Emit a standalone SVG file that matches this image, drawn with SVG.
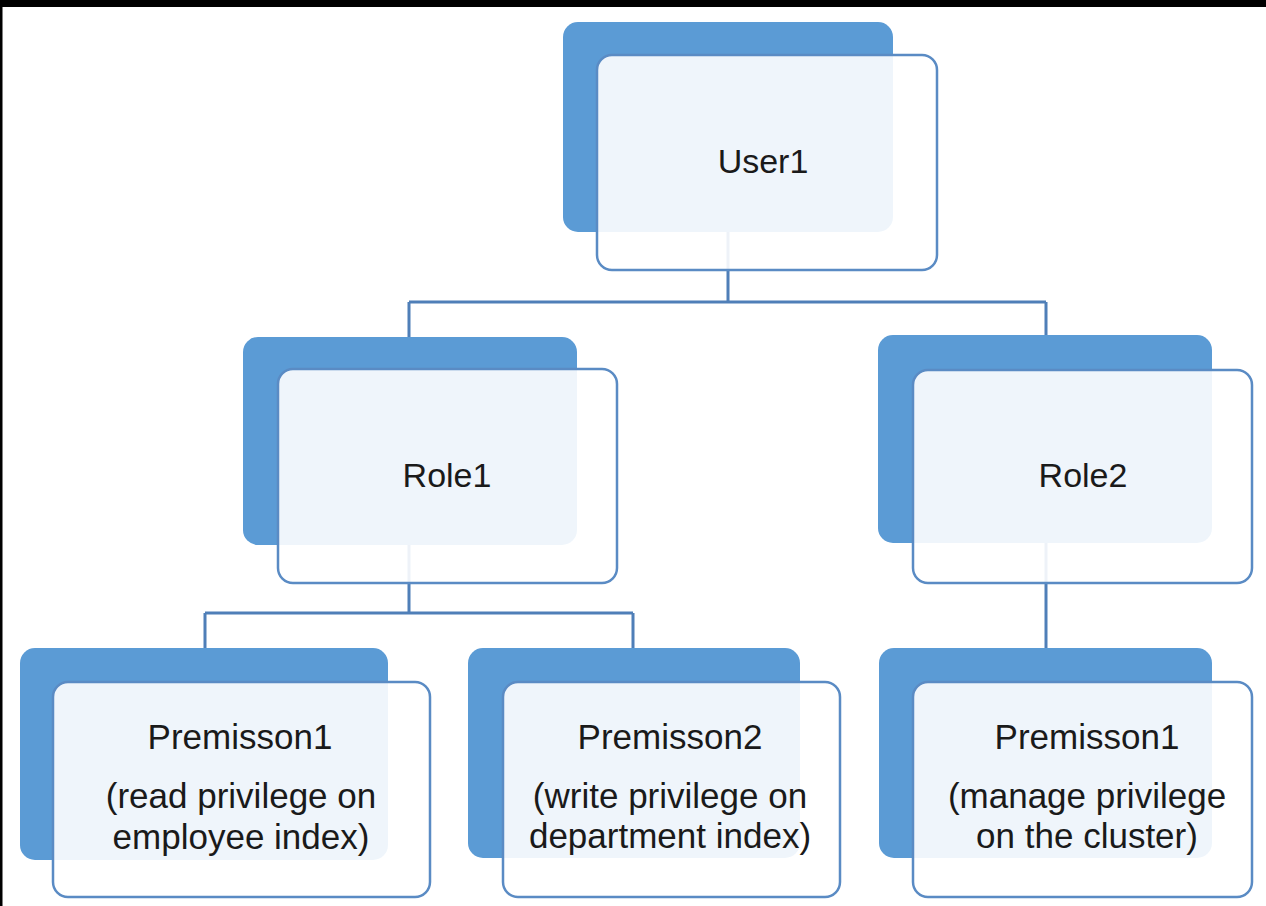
<svg xmlns="http://www.w3.org/2000/svg" width="1266" height="906" viewBox="0 0 1266 906">
<style>
.back{fill:#5B9BD5;}
.front{fill:#FFFFFF;fill-opacity:0.9;stroke:#5A8BC4;stroke-width:2.5;}
.conn{fill:none;stroke:#4F7FB8;stroke-width:3;}
.t{font-family:"Liberation Sans",Arial,sans-serif;font-size:34px;fill:#1A1A1A;text-anchor:middle;}
.p{font-size:35px;}
</style>
<rect x="0" y="0" width="1266" height="906" fill="#FFFFFF"/>
<rect x="0" y="0" width="1266" height="7" fill="#000000"/>
<rect x="0" y="0" width="2.5" height="906" fill="#000000"/>
<g id="connectors">
<path class="conn" d="M728 232 V302 M409 302 H1046 M409 302 V337 M1046 302 V335"/>
<path class="conn" d="M409 545 V613 M205 613 H633 M205 613 V648 M633 613 V648"/>
<path class="conn" d="M1046 543 V648"/>
</g>
<g id="user1">
<rect class="back" x="563" y="22" width="330" height="210" rx="15"/>
<rect class="front" x="597" y="55" width="340" height="215" rx="15"/>
<text class="t" x="763" y="173">User1</text>
</g>
<g id="role1">
<rect class="back" x="243" y="337" width="334" height="208" rx="15"/>
<rect class="front" x="278" y="369" width="339" height="214" rx="15"/>
<text class="t" x="447" y="487">Role1</text>
</g>
<g id="role2">
<rect class="back" x="878" y="335" width="334" height="208" rx="15"/>
<rect class="front" x="913" y="370" width="339" height="213" rx="15"/>
<text class="t" x="1083" y="487">Role2</text>
</g>
<g id="perm1">
<rect class="back" x="20" y="648" width="368" height="212" rx="15"/>
<rect class="front" x="53" y="682" width="377" height="215" rx="15"/>
<text class="t p" x="240" y="749">Premisson1</text>
<text class="t p" x="241" y="808">(read privilege on</text>
<text class="t p" x="241" y="849">employee index)</text>
</g>
<g id="perm2">
<rect class="back" x="468" y="648" width="332" height="210" rx="15"/>
<rect class="front" x="503" y="682" width="337" height="215" rx="15"/>
<text class="t p" x="670" y="749">Premisson2</text>
<text class="t p" x="670" y="808">(write privilege on</text>
<text class="t p" x="670" y="848">department index)</text>
</g>
<g id="perm3">
<rect class="back" x="879" y="648" width="333" height="210" rx="15"/>
<rect class="front" x="913" y="682" width="339" height="215" rx="15"/>
<text class="t p" x="1087" y="749">Premisson1</text>
<text class="t p" x="1087" y="808">(manage privilege</text>
<text class="t p" x="1087" y="848">on the cluster)</text>
</g>
</svg>
